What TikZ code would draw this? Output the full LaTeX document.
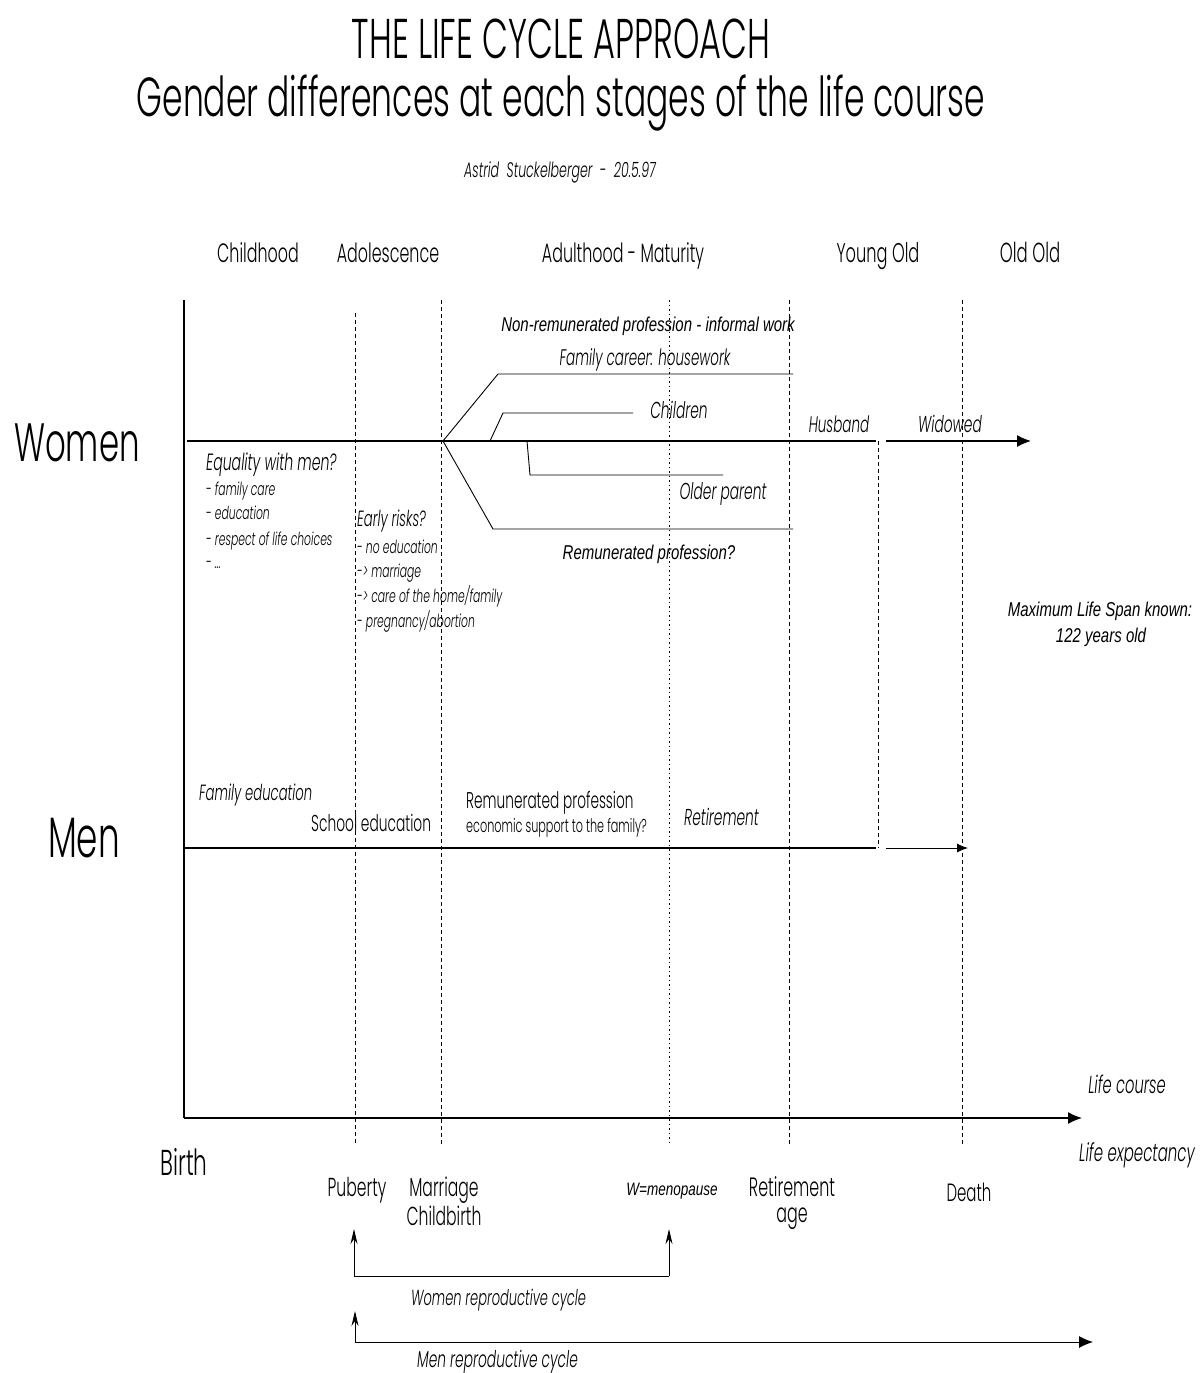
\documentclass[tikz,border=0pt]{standalone}
\usepackage{fontspec}
\setmainfont[FakeStretch=0.6]{Poppins Light}
\newfontfamily\arialc[FakeStretch=0.75]{Liberation Sans}
\usetikzlibrary{arrows.meta}
\newcommand{\fs}[1]{\fontsize{#1}{#1}\selectfont}
\begin{document}
\begin{tikzpicture}[x=1pt,y=-1pt,
  txt/.style={inner sep=0pt, anchor=base},
  txtl/.style={inner sep=0pt, anchor=base west},
  txtr/.style={inner sep=0pt, anchor=base east},
  main/.style={line width=1.3pt},
  thinln/.style={line width=0.9pt},
  dashln/.style={line width=0.8pt, dash pattern=on 4pt off 3pt},
  dotln/.style={line width=0.8pt, dash pattern=on 1.5pt off 3pt},
  bigarrow/.style={-{Latex[length=14pt,width=12pt]}},
  midarrow/.style={-{Latex[length=11pt,width=9pt]}},
  uparrow/.style={-{Stealth[length=15pt,width=7pt]}},
]
\useasboundingbox (0,0) rectangle (1203,1373);
% titles
\node[txt,font=\fs{56}] (t1) at (561,58) {THE LIFE CYCLE APPROACH};
\node[txt,font=\fs{55}] (t2) at (561,116) {Gender differences at each stages of the life course};
\node[txt,font=\fs{21}\itshape] (auth) at (560,177) {Astrid\ \ Stuckelberger\ \ -\ \ 20.5.97};
% stages
\node[txt,font=\fs{26.5}] (s1) at (258,262) {Childhood};
\node[txt,font=\fs{26.5}] (s2) at (388,262) {Adolescence};
\node[txt,font=\fs{26.5}] (s3) at (623,262) {Adulthood - Maturity};
\node[txt,font=\fs{27}] (s4) at (878,262) {Young Old};
\node[txt,font=\fs{27.5}] (s5) at (1030,262) {Old Old};
% row labels
\node[txt,font=\fs{54}] (women) at (77,461) {Women};
\node[txt,font=\fs{57}] (men) at (84,857) {Men};
% coordinates
\coordinate (axtop) at (184,300);
\coordinate (ax0) at (184,1118);
\coordinate (axend) at (1082,1118);
\coordinate (pubtop) at (355,313);
\coordinate (pubbot) at (355,1145);
\coordinate (martop) at (441,300);
\coordinate (marbot) at (441,1145);
\coordinate (menotop) at (669,300);
\coordinate (menobot) at (669,1143);
\coordinate (rettop) at (789,300);
\coordinate (retbot) at (789,1145);
\coordinate (deatop) at (962,300);
\coordinate (deabot) at (962,1145);
\coordinate (hustop) at (878,441);
\coordinate (husbot) at (878,848);
% axes
\draw[main] (axtop) -- (ax0);
\draw[main,bigarrow] (ax0) -- (axend);
% vertical dashed lines
\draw[dashln] (pubtop) -- (pubbot);
\draw[dashln] (martop) -- (marbot);
\draw[dotln] (menotop) -- (menobot);
\draw[dashln] (rettop) -- (retbot);
\draw[dashln] (deatop) -- (deabot);
\draw[dashln] (hustop) -- (husbot);
% women line
\coordinate (w0) at (187,441);
\coordinate (w1) at (876,441);
\coordinate (w2) at (886,441);
\coordinate (w3) at (1031,441);
\coordinate (wb) at (443,441);
\draw[main] (w0) -- (w1);
\draw[main,bigarrow] (w2) -- (w3);
% branches
\coordinate (fc1) at (498,374); \coordinate (fc2) at (793,374);
\draw[thinln] (wb) -- (fc1) -- (fc2);
\coordinate (ch0) at (490,441); \coordinate (ch1) at (503,413); \coordinate (ch2) at (633,413);
\draw[thinln] (ch0) -- (ch1) -- (ch2);
\coordinate (op0) at (527,441); \coordinate (op1) at (530,475); \coordinate (op2) at (723,475);
\draw[thinln] (op0) -- (op1) -- (op2);
\coordinate (rp1) at (493,529); \coordinate (rp2) at (793,529);
\draw[thinln] (wb) -- (rp1) -- (rp2);
% men line
\coordinate (m0) at (184,848);
\coordinate (m1) at (876,848);
\coordinate (m2) at (886,848);
\coordinate (m3) at (968,848);
\draw[main] (m0) -- (m1);
\draw[thinln,midarrow] (m2) -- (m3);
% women texts
\node[txt,font=\fs{20}\arialc\itshape] (nonrem) at (648,331) {Non-remunerated profession - informal work};
\node[txt,font=\fs{22.5}\itshape] (famcar) at (645,365) {Family career: housework};
\node[txt,font=\fs{23}\itshape] (child) at (679,418) {Children};
\node[txt,font=\fs{22.5}\itshape] (husb) at (839,432) {Husband};
\node[txt,font=\fs{23}\itshape] (wid) at (950,432) {Widowed};
\node[txt,font=\fs{23}\itshape] (olderp) at (723,499) {Older parent};
\node[txt,font=\fs{20}\arialc\itshape] (remq) at (649,559) {Remunerated profession?};
\node[txtl,font=\fs{23.5}\itshape] (eq) at (206,470) {Equality with men?};
\node[txtl,font=\fs{18}\itshape] (eq1) at (206,495) {- family care};
\node[txtl,font=\fs{18}\itshape] (eq2) at (206,519) {- education};
\node[txtl,font=\fs{18}\itshape] (eq3) at (206,545) {- respect of life choices};
\node[txtl,font=\fs{18}\itshape] (eq4) at (206,568) {- ...};
\node[txtl,font=\fs{22}\itshape] (er) at (357,526) {Early risks?};
\node[txtl,font=\fs{18}\itshape] (er1) at (357,553) {- no education};
\node[txtl,font=\fs{18}\itshape] (er2) at (357,577) {-> marriage};
\node[txtl,font=\fs{18}\itshape] (er3) at (357,602) {-> care of the home/family};
\node[txtl,font=\fs{18}\itshape] (er4) at (357,627) {- pregnancy/abortion};
\node[txt,font=\fs{20}\arialc\itshape] (maxls) at (1100,616) {Maximum Life Span known:};
\node[txt,font=\fs{20}\arialc\itshape] (maxls2) at (1101,642) {122 years old};
% men texts
\node[txtl,font=\fs{22}\itshape] (famed) at (199,800) {Family education};
\node[txtl,font=\fs{23}] (schoed) at (311,831) {School education};
\node[txtl,font=\fs{22.8}] (remprof) at (466,808) {Remunerated profession};
\node[txtl,font=\fs{18.7}] (econ) at (466,832) {economic support to the family?};
\node[txtl,font=\fs{23}\itshape] (retm) at (684,825) {Retirement};
% axis texts
\node[txtr,font=\fs{24.5}\itshape] (lc) at (1166,1093) {Life course};
\node[txtr,font=\fs{25}\itshape] (le) at (1195,1161) {Life expectancy};
\node[txt,font=\fs{36}] (birth) at (184,1175) {Birth};
\node[txt,font=\fs{26}] (pub) at (357,1196) {Puberty};
\node[txt,font=\fs{26}] (marr) at (444,1196) {Marriage};
\node[txt,font=\fs{26}] (childb) at (444,1225) {Childbirth};
\node[txt,font=\fs{18}\arialc\itshape] (meno) at (672,1195) {W=menopause};
\node[txt,font=\fs{26.5}] (retage) at (792,1196) {Retirement};
\node[txt,font=\fs{26.5}] (retage2) at (792,1222) {age};
\node[txt,font=\fs{25}] (death) at (969,1201) {Death};
% reproductive cycles
\coordinate (wr0) at (354,1276);
\coordinate (wr1) at (669,1276);
\coordinate (wrt0) at (354,1229);
\coordinate (wrt1) at (669,1229);
\draw[thinln,uparrow] (wr0) -- (wrt0);
\draw[thinln,uparrow] (wr1) -- (wrt1);
\draw[thinln] (wr0) -- (wr1);
\node[txtl,font=\fs{21.7}\itshape] (wrc) at (411,1305) {Women reproductive cycle};
\coordinate (mr0) at (355,1342);
\coordinate (mrt) at (355,1311);
\coordinate (mr1) at (1093,1342);
\draw[thinln,uparrow] (mr0) -- (mrt);
\draw[thinln,bigarrow] (mr0) -- (mr1);
\node[txtl,font=\fs{23}\itshape] (mrc) at (417,1367) {Men reproductive cycle};
\end{tikzpicture}
\end{document}
